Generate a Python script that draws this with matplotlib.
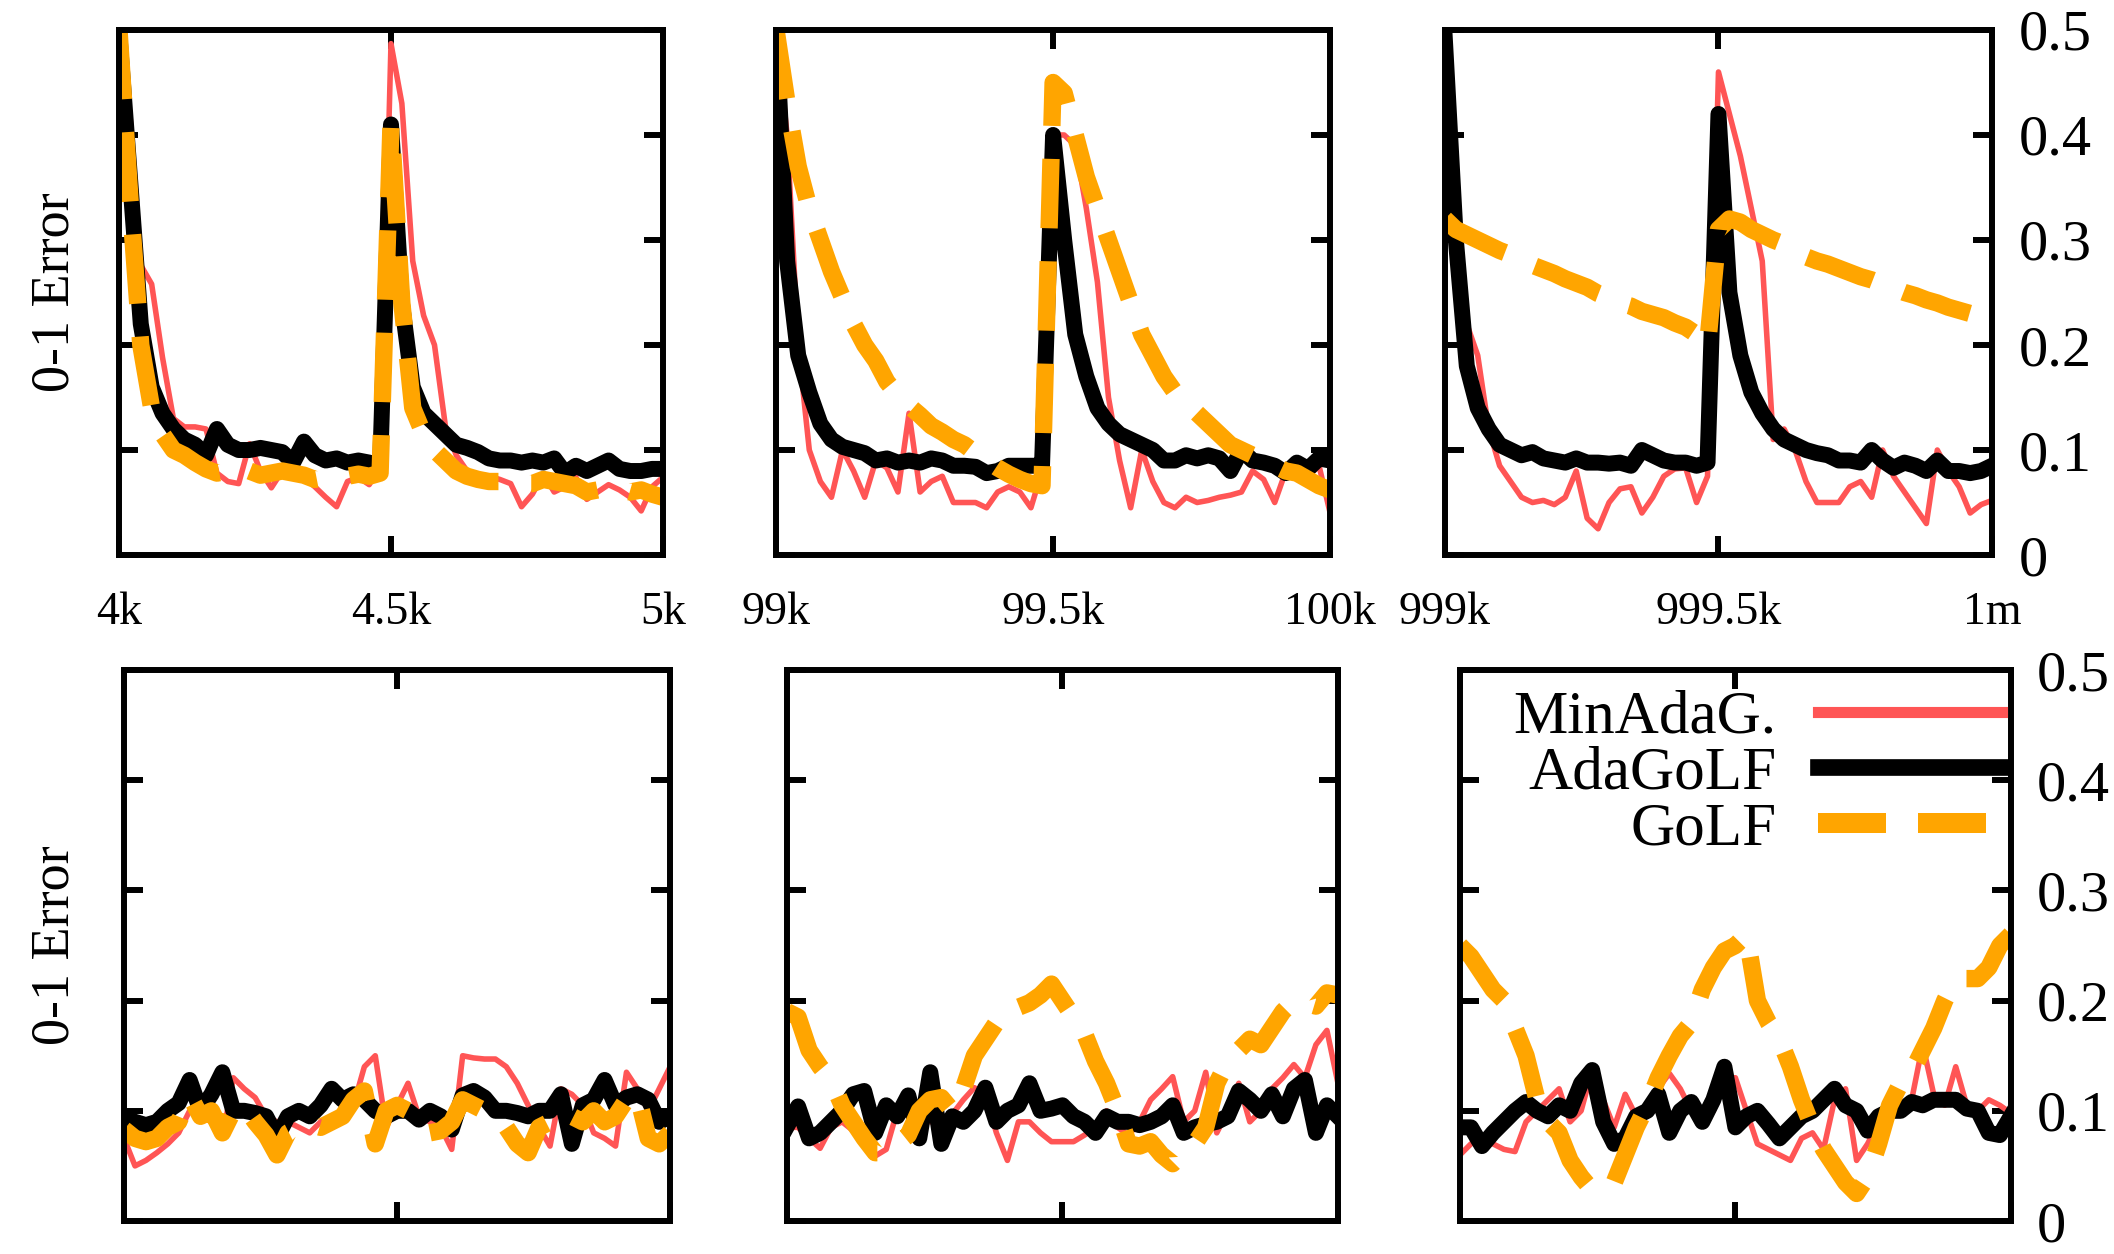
import matplotlib
matplotlib.use('Agg')
import matplotlib.pyplot as plt
from matplotlib.lines import Line2D
import numpy as np

plt.rcParams['font.family'] = ['Liberation Serif', 'DejaVu Serif']

RED = '#ff5555'
ORANGE = '#ffa500'

# x ranges of the three columns (first, middle and last tick)
ranges = [(4000, 4500, 5000), (99000, 99500, 100000), (999000, 999500, 1000000)]
range_labels = [['4k', '4.5k', '5k'], ['99k', '99.5k', '100k'], ['999k', '999.5k', '1m']]

y_ticks = [0, 0.1, 0.2, 0.3, 0.4, 0.5]
y_tick_labels = ['0', '0.1', '0.2', '0.3', '0.4', '0.5']

series_names = ['MinAdaG.', 'AdaGoLF', 'GoLF']

# ---- top row (one point every 20 examples) ----
top1_min = [0.5, 0.42, 0.276, 0.258, 0.188, 0.13, 0.122, 0.122, 0.12, 0.078, 0.07, 0.068, 0.106, 0.08, 0.064, 0.08,
            0.08, 0.074, 0.065, 0.055, 0.046, 0.07, 0.074, 0.067, 0.085, 0.487, 0.43, 0.28, 0.228, 0.2, 0.123, 0.095,
            0.08, 0.077, 0.075, 0.072, 0.068, 0.046, 0.058, 0.077, 0.06, 0.065, 0.074, 0.053, 0.06, 0.067, 0.062,
            0.055, 0.042, 0.065, 0.074]
top1_ada = [0.5, 0.36, 0.22, 0.16, 0.135, 0.12, 0.11, 0.105, 0.095, 0.12, 0.105, 0.1, 0.1, 0.102, 0.1, 0.098, 0.088,
            0.108, 0.095, 0.09, 0.092, 0.088, 0.09, 0.088, 0.084, 0.41, 0.24, 0.16, 0.135, 0.125, 0.115, 0.105, 0.102,
            0.098, 0.092, 0.09, 0.09, 0.088, 0.09, 0.088, 0.092, 0.078, 0.085, 0.08, 0.085, 0.09, 0.082, 0.08, 0.08,
            0.082, 0.082]
top1_golf = [0.5, 0.34, 0.2, 0.14, 0.115, 0.1, 0.095, 0.088, 0.082, 0.078, 0.08, 0.085, 0.08, 0.076, 0.078, 0.08,
             0.078, 0.076, 0.072, 0.074, 0.075, 0.075, 0.077, 0.075, 0.078, 0.41, 0.24, 0.14, 0.115, 0.1, 0.09, 0.08,
             0.075, 0.072, 0.07, 0.07, 0.068, 0.068, 0.068, 0.072, 0.07, 0.068, 0.066, 0.06, 0.062, 0.064, 0.063,
             0.06, 0.062, 0.058, 0.055]

top2_min = [0.5, 0.4, 0.2, 0.1, 0.07, 0.055, 0.1, 0.08, 0.055, 0.09, 0.083, 0.06, 0.135, 0.06, 0.07, 0.075, 0.05,
            0.05, 0.05, 0.045, 0.06, 0.065, 0.06, 0.045, 0.08, 0.4, 0.4, 0.39, 0.33, 0.26, 0.15, 0.09, 0.045, 0.1,
            0.07, 0.05, 0.045, 0.055, 0.05, 0.052, 0.055, 0.057, 0.06, 0.08, 0.072, 0.05, 0.08, 0.082, 0.075, 0.085,
            0.04]
top2_ada = [0.5, 0.28, 0.19, 0.155, 0.125, 0.11, 0.103, 0.1, 0.097, 0.09, 0.092, 0.088, 0.09, 0.088, 0.092, 0.09,
            0.085, 0.085, 0.084, 0.078, 0.08, 0.085, 0.085, 0.085, 0.085, 0.4, 0.3, 0.21, 0.17, 0.14, 0.125, 0.115,
            0.11, 0.105, 0.1, 0.09, 0.09, 0.095, 0.092, 0.095, 0.092, 0.08, 0.1, 0.09, 0.088, 0.085, 0.078, 0.088,
            0.082, 0.092, 0.09]
top2_golf = [0.5, 0.43, 0.37, 0.33, 0.3, 0.27, 0.245, 0.22, 0.2, 0.185, 0.165, 0.152, 0.142, 0.133, 0.123, 0.117,
             0.11, 0.105, 0.097, 0.09, 0.083, 0.077, 0.072, 0.068, 0.066, 0.45, 0.44, 0.4, 0.36, 0.33, 0.3, 0.27, 0.24,
             0.21, 0.19, 0.17, 0.155, 0.145, 0.135, 0.125, 0.115, 0.105, 0.1, 0.095, 0.09, 0.085, 0.08, 0.078, 0.072,
             0.066, 0.062]

top3_min = [0.49, 0.35, 0.22, 0.19, 0.12, 0.085, 0.07, 0.055, 0.05, 0.052, 0.048, 0.055, 0.08, 0.035, 0.025, 0.05,
            0.063, 0.065, 0.04, 0.055, 0.075, 0.082, 0.083, 0.05, 0.075, 0.46, 0.42, 0.38, 0.33, 0.28, 0.11, 0.12,
            0.1, 0.07, 0.05, 0.05, 0.05, 0.065, 0.07, 0.055, 0.1, 0.075, 0.06, 0.045, 0.03, 0.1, 0.08, 0.065, 0.04,
            0.048, 0.052]
top3_ada = [0.49, 0.3, 0.18, 0.14, 0.12, 0.105, 0.1, 0.095, 0.098, 0.092, 0.09, 0.088, 0.092, 0.088, 0.088, 0.087,
            0.088, 0.085, 0.1, 0.095, 0.09, 0.088, 0.088, 0.085, 0.088, 0.42, 0.25, 0.19, 0.155, 0.135, 0.12, 0.11,
            0.105, 0.1, 0.097, 0.095, 0.09, 0.09, 0.088, 0.1, 0.09, 0.083, 0.088, 0.085, 0.08, 0.09, 0.08, 0.08,
            0.078, 0.08, 0.085]
top3_golf = [0.32, 0.31, 0.305, 0.3, 0.295, 0.29, 0.286, 0.28, 0.276, 0.272, 0.268, 0.263, 0.259, 0.255, 0.249,
             0.245, 0.24, 0.237, 0.232, 0.229, 0.226, 0.221, 0.217, 0.21, 0.2, 0.31, 0.32, 0.317, 0.31, 0.305, 0.3,
             0.296, 0.29, 0.284, 0.28, 0.277, 0.273, 0.269, 0.265, 0.262, 0.258, 0.254, 0.25, 0.247, 0.243, 0.24,
             0.236, 0.233, 0.23, 0.226, 0.222]

# ---- bottom row ----
bot1_min = [0.075, 0.05, 0.055, 0.062, 0.07, 0.08, 0.1, 0.095, 0.09, 0.075, 0.13, 0.12, 0.112, 0.095, 0.09, 0.09,
            0.085, 0.08, 0.09, 0.095, 0.1, 0.105, 0.14, 0.15, 0.085, 0.105, 0.125, 0.095, 0.09, 0.085, 0.065, 0.15,
            0.148, 0.147, 0.147, 0.14, 0.125, 0.105, 0.085, 0.068, 0.12, 0.115, 0.105, 0.08, 0.075, 0.068, 0.135,
            0.12, 0.1, 0.12, 0.14]
bot1_ada = [0.093, 0.09, 0.087, 0.09, 0.1, 0.107, 0.128, 0.1, 0.115, 0.135, 0.1, 0.1, 0.098, 0.095, 0.076, 0.095,
            0.1, 0.095, 0.105, 0.12, 0.11, 0.115, 0.11, 0.1, 0.095, 0.1, 0.1, 0.092, 0.1, 0.095, 0.083, 0.114, 0.118,
            0.112, 0.1, 0.1, 0.098, 0.095, 0.1, 0.1, 0.115, 0.07, 0.105, 0.11, 0.128, 0.105, 0.112, 0.115, 0.11,
            0.09, 0.095]
bot1_golf = [0.083, 0.075, 0.072, 0.075, 0.085, 0.09, 0.114, 0.095, 0.1, 0.08, 0.1, 0.104, 0.09, 0.078, 0.06, 0.08,
             0.085, 0.088, 0.085, 0.09, 0.095, 0.11, 0.118, 0.07, 0.1, 0.105, 0.1, 0.085, 0.08, 0.082, 0.09, 0.11,
             0.105, 0.1, 0.09, 0.085, 0.07, 0.062, 0.085, 0.09, 0.1, 0.095, 0.09, 0.1, 0.09, 0.095, 0.11, 0.115,
             0.075, 0.07, 0.08]

bot2_min = [0.085, 0.085, 0.075, 0.066, 0.085, 0.09, 0.082, 0.07, 0.059, 0.065, 0.1, 0.114, 0.1, 0.09, 0.09, 0.097,
            0.11, 0.121, 0.115, 0.08, 0.055, 0.09, 0.09, 0.08, 0.072, 0.072, 0.072, 0.078, 0.085, 0.1, 0.085, 0.078,
            0.09, 0.11, 0.12, 0.131, 0.09, 0.1, 0.135, 0.08, 0.1, 0.125, 0.09, 0.1, 0.12, 0.13, 0.142, 0.13, 0.16,
            0.173, 0.125]
bot2_ada = [0.086, 0.104, 0.075, 0.08, 0.09, 0.1, 0.115, 0.118, 0.08, 0.105, 0.095, 0.114, 0.075, 0.135, 0.07,
            0.095, 0.09, 0.1, 0.121, 0.09, 0.1, 0.105, 0.125, 0.1, 0.102, 0.105, 0.095, 0.09, 0.08, 0.095, 0.09, 0.09,
            0.087, 0.09, 0.095, 0.105, 0.08, 0.085, 0.088, 0.09, 0.095, 0.118, 0.11, 0.1, 0.115, 0.095, 0.12, 0.128,
            0.08, 0.105, 0.095]
bot2_golf = [0.19, 0.185, 0.155, 0.14, 0.128, 0.105, 0.09, 0.075, 0.062, 0.062, 0.07, 0.078, 0.1, 0.11, 0.112, 0.1,
             0.12, 0.15, 0.165, 0.18, 0.194, 0.194, 0.198, 0.205, 0.215, 0.2, 0.185, 0.17, 0.145, 0.125, 0.1, 0.07,
             0.068, 0.072, 0.06, 0.052, 0.062, 0.07, 0.085, 0.125, 0.145, 0.155, 0.165, 0.16, 0.175, 0.19, 0.2,
             0.198, 0.195, 0.207, 0.205]

bot3_min = [0.06, 0.07, 0.075, 0.07, 0.065, 0.063, 0.09, 0.1, 0.11, 0.12, 0.09, 0.1, 0.137, 0.11, 0.085, 0.115,
            0.095, 0.1, 0.12, 0.134, 0.12, 0.1, 0.09, 0.1, 0.13, 0.13, 0.1, 0.07, 0.065, 0.06, 0.055, 0.075, 0.08,
            0.065, 0.11, 0.12, 0.055, 0.07, 0.09, 0.1, 0.105, 0.11, 0.16, 0.115, 0.105, 0.14, 0.105, 0.1, 0.11,
            0.105, 0.098]
bot3_ada = [0.085, 0.085, 0.068, 0.08, 0.09, 0.1, 0.108, 0.1, 0.095, 0.105, 0.1, 0.125, 0.137, 0.09, 0.07, 0.075,
            0.095, 0.1, 0.115, 0.08, 0.1, 0.108, 0.09, 0.11, 0.14, 0.085, 0.095, 0.1, 0.088, 0.075, 0.085, 0.095, 0.1,
            0.11, 0.12, 0.105, 0.1, 0.082, 0.095, 0.1, 0.1, 0.108, 0.105, 0.11, 0.11, 0.11, 0.102, 0.1, 0.08, 0.078,
            0.095]
bot3_golf = [0.25, 0.24, 0.225, 0.21, 0.2, 0.175, 0.15, 0.11, 0.09, 0.08, 0.055, 0.04, 0.028, 0.03, 0.035, 0.06,
             0.085, 0.105, 0.13, 0.15, 0.168, 0.18, 0.21, 0.23, 0.245, 0.25, 0.26, 0.2, 0.18, 0.165, 0.14, 0.11,
             0.085, 0.065, 0.05, 0.035, 0.025, 0.04, 0.07, 0.105, 0.125, 0.135, 0.155, 0.175, 0.2, 0.22, 0.22, 0.22,
             0.23, 0.25, 0.26]

panels = [
    [(top1_min, top1_ada, top1_golf), (top2_min, top2_ada, top2_golf), (top3_min, top3_ada, top3_golf)],
    [(bot1_min, bot1_ada, bot1_golf), (bot2_min, bot2_ada, bot2_golf), (bot3_min, bot3_ada, bot3_golf)],
]

# axes boxes in figure fractions [left, bottom, width, height]
boxes = [
    [[0.0563, 0.5574, 0.2573, 0.4187], [0.3671, 0.5574, 0.2621, 0.4187], [0.6835, 0.5574, 0.2588, 0.4187]],
    [[0.0587, 0.0263, 0.2583, 0.4394], [0.3723, 0.0263, 0.2606, 0.4394], [0.6906, 0.0263, 0.2606, 0.4394]],
]

fig = plt.figure(figsize=(21.14, 12.54), dpi=100)

for row in range(2):
    for col in range(3):
        ax = fig.add_axes(boxes[row][col])
        mn, ada, golf = panels[row][col]
        x0, xm, x1 = ranges[col]
        x = np.linspace(x0, x1, len(mn))
        ax.plot(x, mn, color=RED, lw=4)
        ax.plot(x, ada, color='black', lw=11.5)
        ax.plot(x, golf, color=ORANGE, lw=12.5, dashes=(4, 1.9))
        ax.set_xlim(x0, x1)
        ax.set_ylim(0, 0.5)
        ax.set_xticks([x0, xm, x1])
        ax.set_xticklabels(range_labels[col])
        ax.set_yticks(y_ticks)
        ax.set_yticklabels(y_tick_labels)
        for s in ax.spines.values():
            s.set_linewidth(4.3)
        ax.tick_params(direction='in', length=14, width=4.3, top=True, right=True,
                       labelleft=False, labelright=(col == 2), labelbottom=(row == 0))
        ax.tick_params(axis='x', labelsize=33, pad=26)
        ax.tick_params(axis='y', labelsize=42, pad=19)
        if col == 0:
            ax.set_ylabel('0-1 Error', fontsize=39)
            ax.yaxis.set_label_coords(-0.07 if row == 0 else -0.079, 0.5)
        if row == 1 and col == 2:
            handles = [Line2D([], [], color=RED, lw=8),
                       Line2D([], [], color='black', lw=12),
                       Line2D([], [], color=ORANGE, lw=14.4, dashes=(3.4, 1.6))]
            ax.legend(handles, series_names, loc='upper right', bbox_to_anchor=(1.0, 0.98), frameon=False,
                      markerfirst=False, fontsize=44, handlelength=3.0, handletextpad=0.69, labelspacing=0.0,
                      borderaxespad=0.0, borderpad=0.15)

plt.savefig('out.png', dpi=100)
